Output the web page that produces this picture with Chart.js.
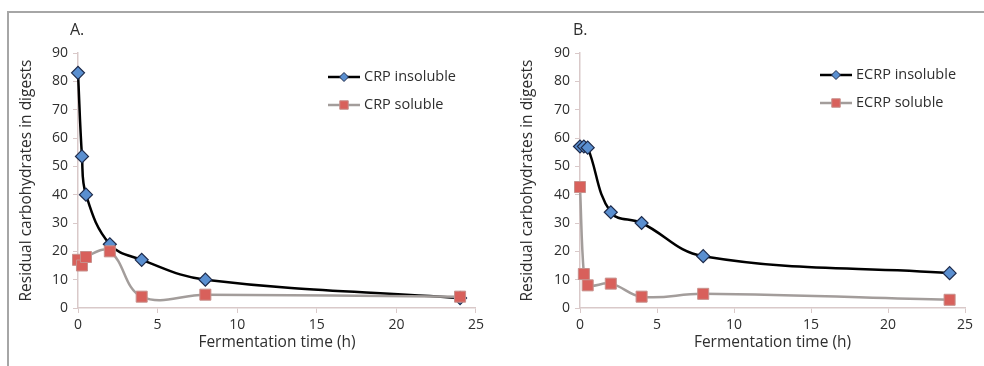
<!DOCTYPE html>
<html>
<head>
<meta charset="utf-8">
<script src="https://cdn.jsdelivr.net/npm/chart.js@4.4.1/dist/chart.umd.min.js"></script>
<style>
  body { margin: 0; background: #fff; }
  #frame { position: absolute; left: 7px; top: 11px; width: 977px; height: 355px;
           border-top: 2px solid #a6a6a6; border-left: 2px solid #a6a6a6; }
  canvas { position: absolute; top: 12px; }
  #chartA { left: 8px; }
  #chartB { left: 498px; }
</style>
</head>
<body>
<div id="frame"></div>
<canvas id="chartA" width="480" height="354"></canvas>
<canvas id="chartB" width="486" height="354"></canvas>
<script>
// dados
const timeHours = [0, 0.25, 0.5, 2, 4, 8, 24];
const crpInsoluble = [83, 53.5, 40, 22.5, 17, 10, 3.5];
const crpSoluble = [17, 15, 18, 20, 4, 4.7, 4];
const ecrpInsoluble = [57, 57, 56.6, 33.8, 30, 18.3, 12.3];
const ecrpSoluble = [42.7, 12, 8, 8.6, 4, 5, 2.9];
const xTicks = [0, 5, 10, 15, 20, 25];
const yTicks = [0, 10, 20, 30, 40, 50, 60, 70, 80, 90];

const axisColor = '#d9c9c9';
const textColor = '#2e2e2e';
const fontFamily = '"Open Sans", sans-serif';

function points(xs, ys) {
    return xs.map((x, i) => ({ x: x, y: ys[i] }));
}

// legenda dentro da area do grafico + letra do painel
const panelDecor = {
    id: 'panelDecor',
    afterDatasetsDraw(chart, args, opts) {
        const ctx = chart.ctx;
        const area = chart.chartArea;
        ctx.save();
        ctx.fillStyle = textColor;
        ctx.font = '16px ' + fontFamily;
        ctx.textBaseline = 'middle';
        ctx.textAlign = 'left';
        ctx.fillText(opts.label, opts.labelX, opts.labelY);

        chart.data.datasets.forEach((ds, i) => {
            const x0 = area.left + opts.x;
            const y = area.top + opts.y + i * 28;
            ctx.strokeStyle = ds.borderColor;
            ctx.lineWidth = 2.5;
            ctx.beginPath();
            ctx.moveTo(x0, y);
            ctx.lineTo(x0 + 32, y);
            ctx.stroke();
            ctx.fillStyle = ds.pointBackgroundColor;
            ctx.strokeStyle = ds.pointBorderColor;
            ctx.lineWidth = 1;
            Chart.helpers.drawPoint(ctx, {
                pointStyle: ds.pointStyle,
                radius: ds.pointStyle === 'rect' ? 6 : 4.5,
                borderWidth: 1
            }, x0 + 16, y);
            ctx.fillStyle = textColor;
            ctx.font = '14.5px ' + fontFamily;
            ctx.fillText(ds.label, x0 + 36, y);
        });
        ctx.restore();
    }
};

function makeChart(id, names, insoluble, soluble, layout) {
    const ctx = document.getElementById(id).getContext('2d');
    return new Chart(ctx, {
        type: 'line',
        data: {
            datasets: [{
                label: names[0],
                data: points(timeHours, insoluble),
                order: 1,
                borderColor: '#000000',
                borderWidth: 2.5,
                tension: 0.4,
                clip: false,
                pointStyle: 'rectRot',
                pointRadius: 6.5,
                pointBackgroundColor: '#5a8fd0',
                pointBorderColor: '#1d2a4a',
                pointBorderWidth: 1.2
            }, {
                label: names[1],
                data: points(timeHours, soluble),
                order: 0, // quadrados por cima
                borderColor: '#a39d9b',
                borderWidth: 2.5,
                tension: 0.4,
                clip: false,
                pointStyle: 'rect',
                pointRadius: 7.8,
                pointBackgroundColor: '#d8605b',
                pointBorderColor: '#c7908c',
                pointBorderWidth: 1
            }]
        },
        options: {
            responsive: false,
            animation: false,
            layout: { padding: { top: 41, right: layout.right, left: 0, bottom: 0 } },
            plugins: {
                legend: { display: false },
                tooltip: { enabled: false },
                panelDecor: layout.decor
            },
            scales: {
                x: {
                    type: 'linear',
                    min: 0, max: 25,
                    afterBuildTicks: (scale) => { scale.ticks = xTicks.map(v => ({ value: v })); },
                    afterFit: (scale) => { scale.height = 58; },
                    grid: { display: true, drawOnChartArea: false, drawTicks: true, tickLength: 5, color: axisColor },
                    border: { display: true, color: axisColor, width: 1.5 },
                    ticks: { color: textColor, padding: 4, font: { family: fontFamily, size: 14 } },
                    title: {
                        display: true, text: 'Fermentation time (h)', color: textColor,
                        font: { family: fontFamily, size: 15.5 }, padding: { top: 0, bottom: 14 }
                    }
                },
                y: {
                    min: 0, max: 90,
                    afterBuildTicks: (scale) => { scale.ticks = yTicks.map(v => ({ value: v })); },
                    afterFit: (scale) => { scale.width = layout.yWidth; },
                    grid: { display: true, drawOnChartArea: false, drawTicks: true, tickLength: 5, color: axisColor },
                    border: { display: true, color: axisColor, width: 1.5 },
                    ticks: { color: textColor, padding: 5, font: { family: fontFamily, size: 14 } },
                    title: {
                        display: true, text: 'Residual carbohydrates in digests', color: textColor,
                        font: { family: fontFamily, size: 15.5 }, padding: { top: layout.titlePad, bottom: 0 }
                    }
                }
            }
        },
        plugins: [panelDecor]
    });
}

makeChart('chartA', ['CRP insoluble', 'CRP soluble'], crpInsoluble, crpSoluble, {
    right: 10, yWidth: 70, titlePad: 9.5,
    decor: { label: 'A.', labelX: 62, labelY: 18, x: 250, y: 24 }
});

makeChart('chartB', ['ECRP insoluble', 'ECRP soluble'], ecrpInsoluble, ecrpSoluble, {
    right: 19, yWidth: 82, titlePad: 20.5,
    decor: { label: 'B.', labelX: 75, labelY: 18, x: 240, y: 22 }
});
</script>
</body>
</html>
